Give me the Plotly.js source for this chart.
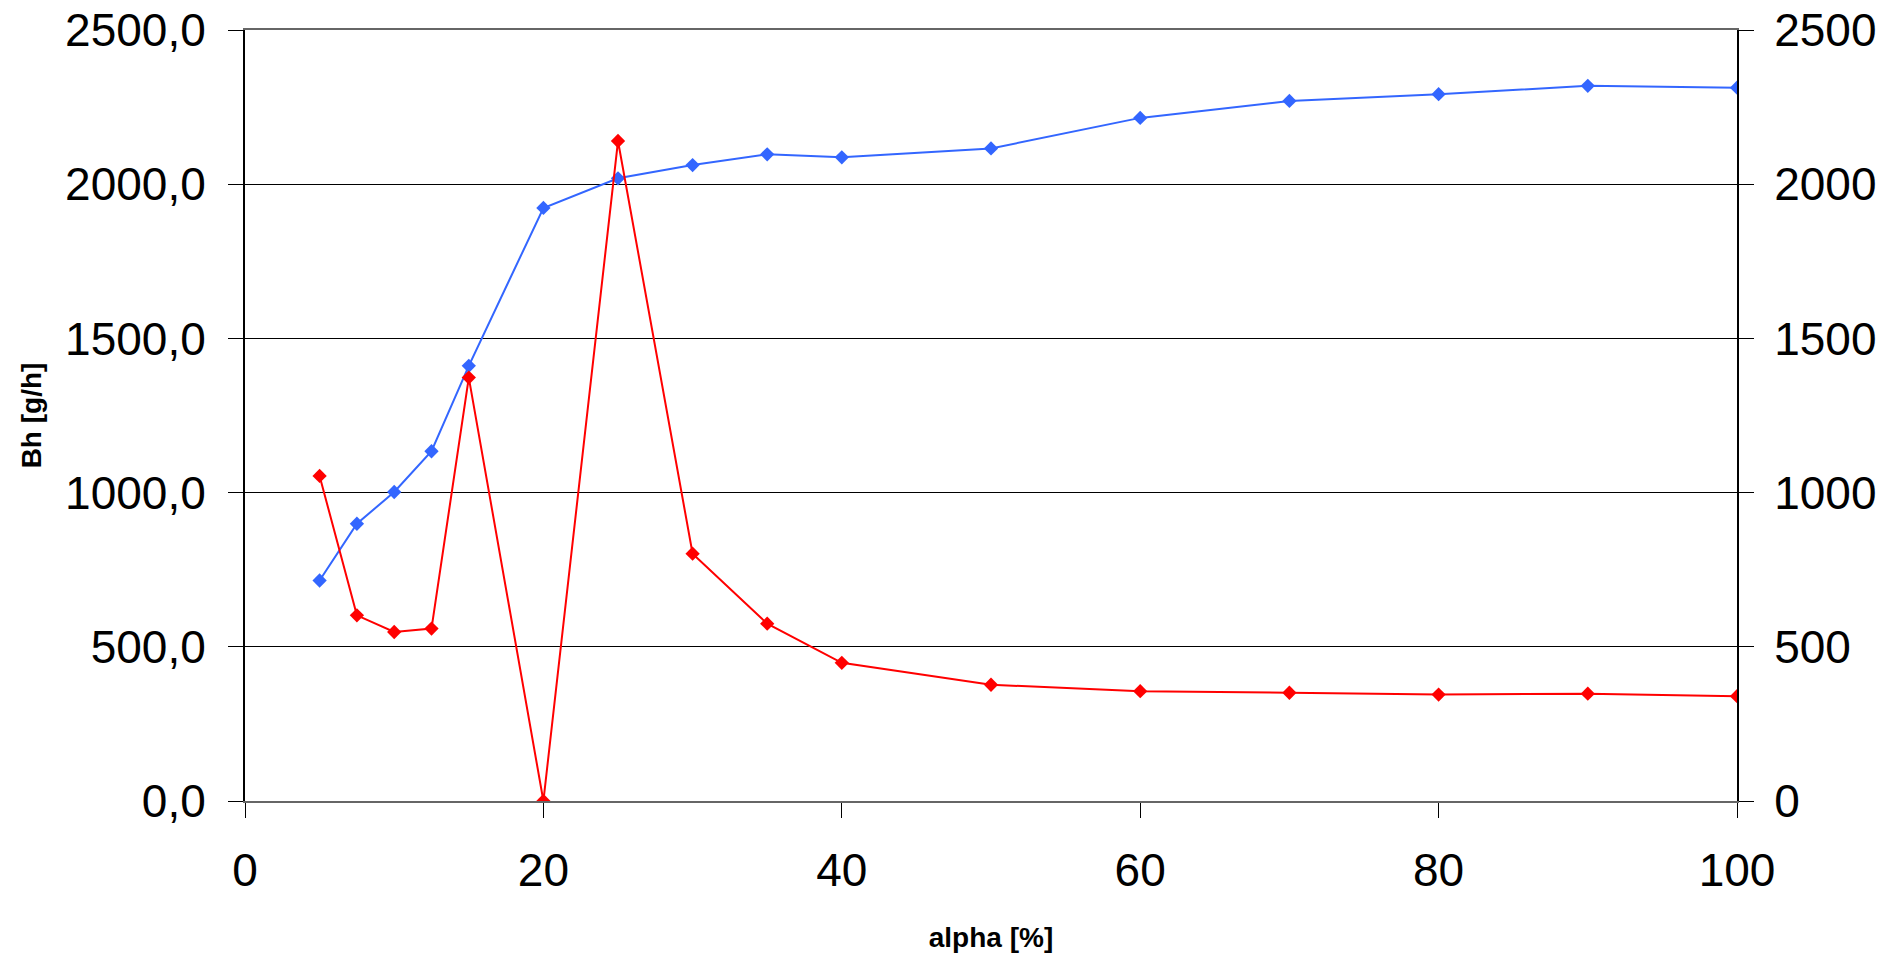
<!DOCTYPE html>
<html>
<head>
<meta charset="utf-8">
<script src="https://cdn.plot.ly/plotly-3.0.1.min.js"></script>
<style>html,body{margin:0;padding:0;background:#fff;}#chart{width:1902px;height:953px;}</style>
</head>
<body>
<div id="chart"></div>
<script>
const alpha = [5, 7.5, 10, 12.5, 15, 20, 25, 30, 35, 40, 50, 60, 70, 80, 90, 100];
const blueSeries = [715, 899, 1002, 1134, 1411, 1923, 2019, 2062, 2097, 2087, 2116, 2215, 2270, 2292, 2319, 2313];
const redSeries = [1054, 602, 548, 559, 1373, 0, 2140, 802, 575, 448, 377, 356, 351, 345, 348, 340];
const xTicks = [0, 20, 40, 60, 80, 100];
const yTicks = [0, 500, 1000, 1500, 2000, 2500];
const xTitle = 'alpha [%]';
const yTitle = 'Bh [g/h]';

const FONT = 'Liberation Sans, Arial, Helvetica, sans-serif';

const traces = [
  {
    x: alpha, y: blueSeries, type: 'scatter', mode: 'lines+markers', yaxis: 'y',
    line: {color: '#3366FF', width: 2},
    marker: {symbol: 'diamond', size: 11, color: '#3366FF'},
    showlegend: false, hoverinfo: 'x+y'
  },
  {
    x: alpha, y: redSeries, type: 'scatter', mode: 'lines+markers', yaxis: 'y2',
    line: {color: '#FF0000', width: 2},
    marker: {symbol: 'diamond', size: 11, color: '#FF0000'},
    showlegend: false, hoverinfo: 'x+y'
  },
  {
    x: [alpha[0]], y: [null], type: 'scatter', mode: 'lines', yaxis: 'y3',
    showlegend: false, hoverinfo: 'skip'
  }
];

const layout = {
  width: 1902, height: 953,
  margin: {l: 245, r: 165, t: 30, b: 152, pad: 0},
  paper_bgcolor: '#ffffff', plot_bgcolor: '#ffffff',
  separators: ',.',
  font: {family: FONT, color: '#000'},
  showlegend: false,
  xaxis: {
    range: [0, 100], tickvals: xTicks, ticktext: xTicks.map(String),
    ticks: 'outside', ticklen: 15, tickwidth: 1, tickcolor: '#000',
    showline: true, linecolor: '#666', linewidth: 2, mirror: true,
    showgrid: false, zeroline: false,
    tickfont: {family: FONT, size: 46, color: '#000'},
    ticklabelstandoff: 13,
    title: {text: xTitle, font: {family: FONT, size: 28, color: '#000', weight: 'bold'}, standoff: 32}
  },
  yaxis: {
    range: [0, 2500], tickvals: yTicks, tickformat: '.1f',
    ticks: 'outside', ticklen: 15, tickwidth: 1, tickcolor: '#000',
    showline: true, linecolor: '#000', linewidth: 2,
    showgrid: true, gridcolor: '#000', gridwidth: 1, zeroline: false,
    tickfont: {family: FONT, size: 46, color: '#000'},
    ticklabelstandoff: 13,
    title: {text: yTitle, font: {family: FONT, size: 28, color: '#000', weight: 'bold'}, standoff: 15}
  },
  yaxis2: {
    range: [0, 2500], tickvals: yTicks, tickformat: 'd',
    overlaying: 'y', side: 'right',
    ticks: 'outside', ticklen: 15, tickwidth: 1, tickcolor: '#000',
    showline: true, linecolor: '#000', linewidth: 2,
    showgrid: false, zeroline: false,
    tickfont: {family: FONT, size: 46, color: '#000'},
    ticklabelstandoff: 11
  },
  yaxis3: {
    range: [0, 2500], tickvals: yTicks,
    overlaying: 'y', side: 'right',
    ticks: 'inside', ticklen: 14, tickwidth: 1, tickcolor: '#000',
    showticklabels: false, showline: false, showgrid: false, zeroline: false
  }
};

Plotly.newPlot('chart', traces, layout, {displayModeBar: false, staticPlot: true});
</script>
</body>
</html>
